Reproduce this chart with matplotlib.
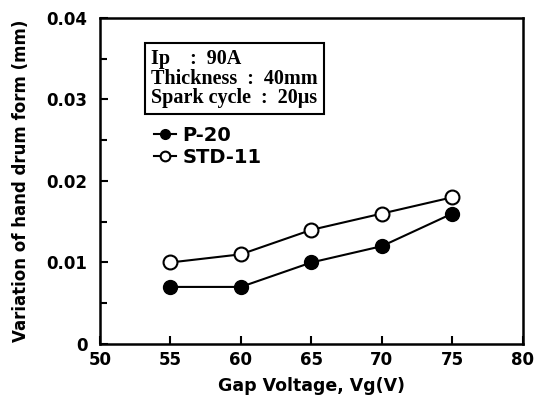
import matplotlib
matplotlib.use('Agg')
import matplotlib.pyplot as plt
from matplotlib.ticker import MultipleLocator

gap_voltage = [55, 60, 65, 70, 75]
p20 = [0.007, 0.007, 0.010, 0.012, 0.016]
std11 = [0.010, 0.011, 0.014, 0.016, 0.018]
x_ticks = [50, 55, 60, 65, 70, 75, 80]
y_ticks = [0, 0.01, 0.02, 0.03, 0.04]
y_tick_labels = ['0', '0.01', '0.02', '0.03', '0.04']

plt.rcParams['font.family'] = ['DejaVu Sans']

fig = plt.figure(figsize=(5.34, 4.09), dpi=100)
ax = fig.add_axes([0.187, 0.159, 0.792, 0.797])

ax.plot(gap_voltage, p20, color='black', lw=1.5, marker='o', ms=10,
        mfc='black', mec='black', label='P-20')
ax.plot(gap_voltage, std11, color='black', lw=1.5, marker='o', ms=10,
        mfc='white', mec='black', mew=1.5, label='STD-11')

ax.set_xlim(50, 80)
ax.set_ylim(0, 0.04)
ax.set_xticks(x_ticks)
ax.set_yticks(y_ticks)
ax.set_yticklabels(y_tick_labels)
ax.yaxis.set_minor_locator(MultipleLocator(0.005))
ax.tick_params(direction='in', which='both', top=False, right=False,
               labelsize=12, width=1.5)
ax.tick_params(which='major', length=6)
ax.tick_params(which='minor', length=5)
ax.tick_params(axis='x', pad=5)
ax.tick_params(axis='y', pad=9)
for lbl in ax.get_xticklabels() + ax.get_yticklabels():
    lbl.set_fontweight('bold')
for s in ax.spines.values():
    s.set_linewidth(1.8)

ax.set_xlabel('Gap Voltage, Vg(V)', fontsize=12.5, fontweight='bold', labelpad=6)
ax.set_ylabel('Variation of hand drum form (mm)', fontsize=12, fontweight='bold',
              labelpad=12)

# condition box
ax.text(0.122, 0.905, 'Ip    :  90A\nThickness  :  40mm\nSpark cycle  :  20\u03bcs',
        transform=ax.transAxes, va='top', ha='left', fontsize=14.5,
        fontweight='bold', family=['Liberation Serif', 'DejaVu Serif'],
        linespacing=0.97,
        bbox=dict(boxstyle='square,pad=0.3', fc='white', ec='black', lw=1.5))

leg = ax.legend(loc='upper left', bbox_to_anchor=(0.128, 0.668), frameon=False,
                handlelength=1.15, handletextpad=0.3, labelspacing=0.15,
                borderaxespad=0, borderpad=0, markerscale=0.7,
                prop={'size': 14, 'weight': 'bold'})

fig.savefig('out.png', dpi=100)
